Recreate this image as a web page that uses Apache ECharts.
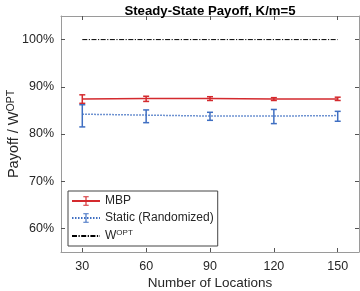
<!DOCTYPE html>
<html>
<head>
<meta charset="utf-8">
<script src="https://cdn.jsdelivr.net/npm/echarts@6/dist/echarts.min.js"></script>
<style>html,body{margin:0;padding:0;background:#fff}#c{width:360px;height:291px}</style>
</head>
<body>
<div id="c"></div>
<script>
const locations = [30, 60, 90, 120, 150];
const mbpMean = [87.4, 87.5, 87.5, 87.4, 87.4];
const mbpLow = [86.5, 86.9, 87.1, 87.1, 87.1];
const mbpHigh = [88.3, 88.0, 87.9, 87.7, 87.8];
const staticMean = [84.2, 84.0, 83.8, 83.8, 83.9];
const staticLow = [81.5, 82.4, 82.9, 82.2, 82.7];
const staticHigh = [86.2, 85.1, 84.6, 85.2, 84.8];
const optX = [30, 150];
const optY = [100, 100];
const yTicks = [60, 70, 80, 90, 100];
const xTicks = [30, 60, 90, 120, 150];

const RED = '#d42a2e';
const BLUE = '#3f6fc2';
const TXT = '#262626';
const FONT = 'Liberation Sans, Arial, sans-serif';
const IBAR = 'path://M0 5 L0 5.01 L0.01 5 Z M10 5 L10 5.01 L9.99 5 Z M2.2 0 H7.8 V1.2 H5.6 V8.8 H7.8 V10 H2.2 V8.8 H4.4 V1.2 H2.2 Z';

function errData(lo, hi) { return locations.map((x, i) => [x, lo[i], hi[i]]); }
function errRender(color) {
  return function (params, api) {
    const x = api.value(0);
    const p1 = api.coord([x, api.value(1)]);
    const p2 = api.coord([x, api.value(2)]);
    const w = 3;
    const st = { stroke: color, lineWidth: 1.5, fill: null };
    return {
      type: 'group',
      children: [
        { type: 'line', shape: { x1: p1[0], y1: p1[1], x2: p2[0], y2: p2[1] }, style: st },
        { type: 'line', shape: { x1: p1[0] - w, y1: p1[1], x2: p1[0] + w, y2: p1[1] }, style: st },
        { type: 'line', shape: { x1: p2[0] - w, y1: p2[1], x2: p2[0] + w, y2: p2[1] }, style: st }
      ]
    };
  };
}

const chart = echarts.init(document.getElementById('c'), null, { renderer: 'canvas' });
const axisLine = { show: true, lineStyle: { color: '#9a9a9a', width: 1 } };
const tickLine = { color: '#555', width: 1 };
chart.setOption({
  animation: false,
  textStyle: { fontFamily: FONT },
  title: {
    text: 'Steady-State Payoff, K/m=5',
    left: 205, top: 0, textAlign: 'center',
    textStyle: { fontSize: 13.2, fontWeight: 'bold', color: '#000', fontFamily: FONT }
  },
  grid: { left: 61, right: 1, top: 16, bottom: 39, containLabel: false, outerBoundsMode: 'none' },
  legend: {
    orient: 'vertical', left: 68, top: 191,
    padding: [4, 4, 4, 3], itemGap: 5, itemWidth: 28, itemHeight: 12,
    borderColor: '#444', borderWidth: 1, backgroundColor: '#fff',
    selectedMode: false,
    data: [
      { name: 'MBP' },
      { name: 'Static (Randomized)' },
      { name: 'WOPT', itemStyle: { opacity: 0 } }
    ],
    formatter: function (n) { return n === 'WOPT' ? '{n|W}{s|OPT}' : '{n|' + n + '}'; },
    textStyle: {
      color: TXT,
      rich: {
        n: { fontSize: 12, color: TXT, fontFamily: FONT, lineHeight: 14 },
        s: { fontSize: 8, color: TXT, fontFamily: FONT, verticalAlign: 'top', lineHeight: 9 }
      }
    }
  },
  xAxis: [{
    type: 'value', min: 20, max: 160, position: 'bottom',
    name: 'Number of Locations', nameLocation: 'middle', nameGap: 24, nameMoveOverlap: false,
    nameTextStyle: { fontSize: 13.5, color: TXT },
    axisLine: axisLine,
    axisTick: { inside: true, length: 4, customValues: xTicks, lineStyle: tickLine },
    axisLabel: { customValues: xTicks, fontSize: 12.5, color: TXT, margin: 8 },
    splitLine: { show: false }
  }, {
    type: 'value', min: 20, max: 160, position: 'top',
    axisLine: axisLine,
    axisTick: { inside: true, length: 4, customValues: xTicks, lineStyle: tickLine },
    axisLabel: { show: false },
    splitLine: { show: false }
  }],
  yAxis: [{
    type: 'value', min: 55, max: 105, position: 'left',
    name: 'Payoff / W{s|OPT}', nameLocation: 'middle', nameGap: 40, nameMoveOverlap: false,
    nameTextStyle: {
      fontSize: 14.5, color: TXT,
      rich: { s: { fontSize: 10.5, color: TXT, verticalAlign: 'top', fontFamily: FONT } }
    },
    axisLine: axisLine,
    axisTick: { inside: true, length: 4, customValues: yTicks, lineStyle: tickLine },
    axisLabel: { customValues: yTicks, fontSize: 12.5, color: TXT, margin: 7, formatter: v => v + '%' },
    splitLine: { show: false }
  }, {
    type: 'value', min: 55, max: 105, position: 'right',
    axisLine: axisLine,
    axisTick: { inside: true, length: 4, customValues: yTicks, lineStyle: tickLine },
    axisLabel: { show: false },
    splitLine: { show: false }
  }],
  series: [
    {
      name: 'MBP', type: 'line', data: locations.map((x, i) => [x, mbpMean[i]]),
      color: RED, symbol: IBAR, symbolSize: 10, showSymbol: false,
      lineStyle: { color: RED, width: 1.5 }, z: 3
    },
    {
      name: 'Static (Randomized)', type: 'line', data: locations.map((x, i) => [x, staticMean[i]]),
      color: BLUE, symbol: IBAR, symbolSize: 10, showSymbol: false,
      lineStyle: { color: BLUE, width: 1.5, type: [1.5, 1.5] }, z: 3
    },
    {
      name: 'WOPT', type: 'line', data: optX.map((x, i) => [x, optY[i]]),
      color: '#000', symbol: 'none',
      lineStyle: { color: '#000', width: 1, type: [5, 1.5, 1.2, 1.5] }, z: 2
    },
    { name: 'mbpErr', type: 'custom', data: errData(mbpLow, mbpHigh), renderItem: errRender(RED), z: 4, silent: true },
    { name: 'staticErr', type: 'custom', data: errData(staticLow, staticHigh), renderItem: errRender(BLUE), z: 4, silent: true }
  ]
});
</script>
</body>
</html>
